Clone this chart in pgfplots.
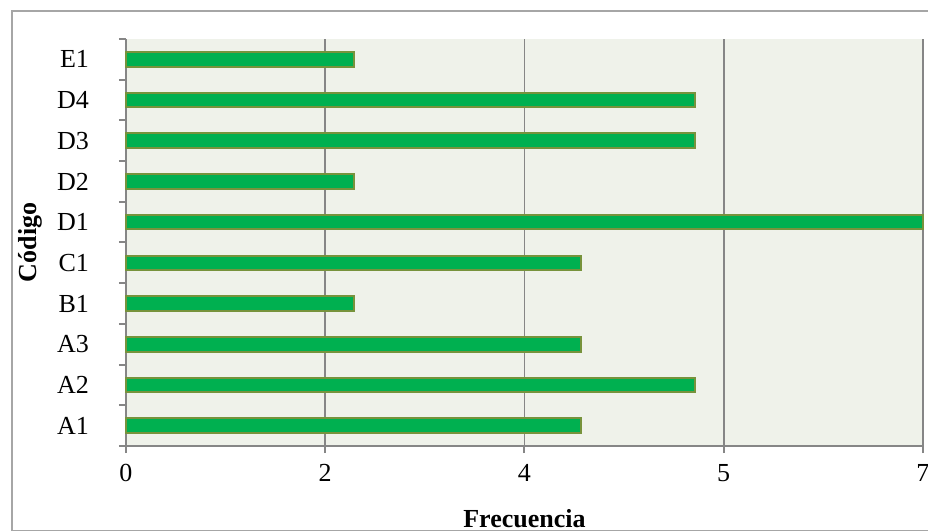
\documentclass[border=0pt]{standalone}
\usepackage{pgfplots}
\pgfplotsset{compat=1.18}
\usepackage{fontspec}
\setmainfont{Liberation Serif}

\definecolor{barfill}{RGB}{0,176,80}
\definecolor{barline}{RGB}{119,147,60}
\definecolor{plotbg}{RGB}{239,242,234}
\definecolor{gridgray}{RGB}{134,134,134}
\definecolor{framegray}{RGB}{166,166,166}

\begin{document}
\begin{tikzpicture}
\path[use as bounding box] (-63pt,-42.5pt) rectangle (401pt,223pt);
\begin{axis}[
  at={(0,0)}, anchor=south west,
  scale only axis, width=398.5pt, height=203.5pt,
  xmin=0, xmax=7, ymin=-0.5, ymax=9.5,
  axis x line*=bottom, axis y line*=left,
  axis line style={gridgray, line width=1pt, -},
  axis background/.style={fill=plotbg},
  xtick={0,1.75,3.5,5.25,7},
  xticklabels={0,2,4,5,7},
  xmajorgrids,
  major grid style={gridgray, line width=0.9pt},
  ytick={0,...,9},
  yticklabels={A1,A2,A3,B1,C1,D1,D2,D3,D4,E1},
  minor ytick={-0.5,0.5,...,9.5},
  every major y tick/.append style={draw=none},
  tick align=outside,
  major tick length=3.5pt, minor tick length=3.5pt,
  tick style={gridgray, line width=1pt},
  /pgf/number format/assume math mode=true,
  ticklabel style={font=\fontsize{13}{15}\selectfont, text=black},
  xticklabel style={yshift=-2pt},
  yticklabel style={xshift=-11.5pt},
  xlabel={Frecuencia},
  ylabel={Código},
  label style={font=\fontsize{13}{15}\selectfont\bfseries},
  xlabel style={at={(axis description cs:0.5,0)}, anchor=base, yshift=-40.5pt},
  ylabel style={at={(axis description cs:-0.1205,0.5)}, anchor=center},
  clip=false,
]
\addplot[xbar, bar width=7.3pt, fill=barfill, draw=barline, line width=1pt]
  coordinates {(4,0) (5,1) (4,2) (2,3) (4,4) (7,5) (2,6) (5,7) (5,8) (2,9)};
\end{axis}
\draw[framegray, line width=0.75pt] (-57pt,-42.25pt) rectangle (410pt,217.5pt);
\end{tikzpicture}
\end{document}
